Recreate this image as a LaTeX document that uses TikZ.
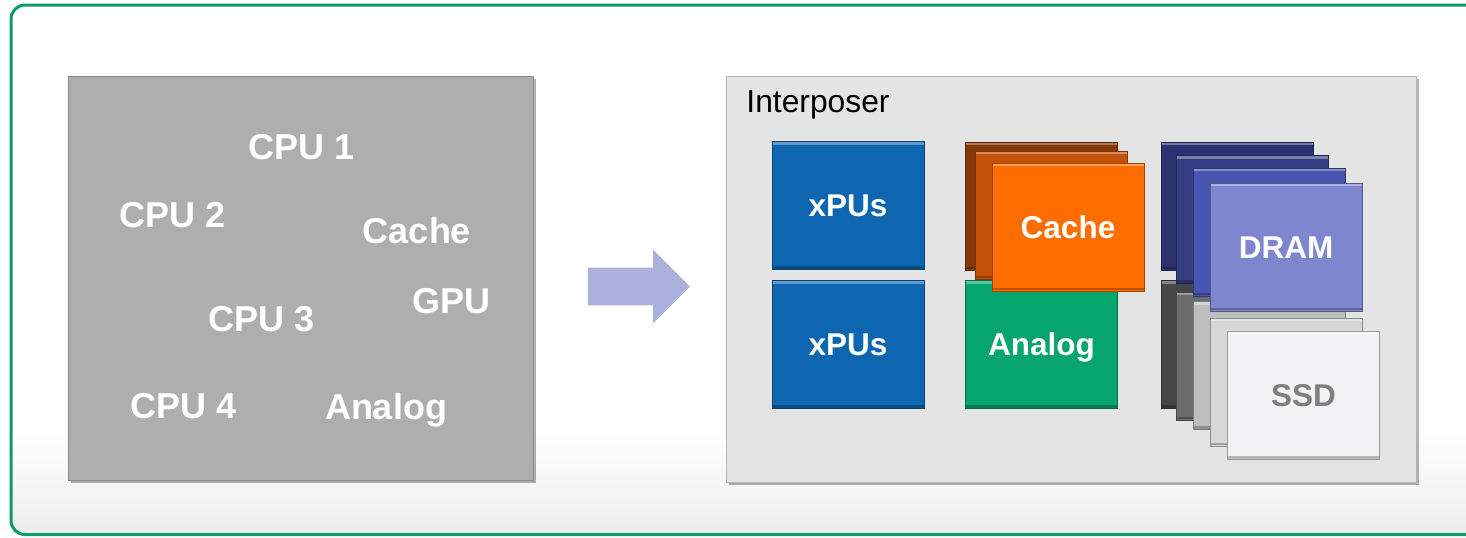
\documentclass[tikz,border=0pt]{standalone}
\usepackage{fontspec}
\setmainfont{Liberation Sans}
\usepackage{xcolor}
\usetikzlibrary{shapes.arrows, shadows}

\definecolor{frameGreen}{HTML}{0B9B6B}
\definecolor{chipGray}{HTML}{AEAEAE}
\definecolor{iposGray}{HTML}{E4E4E4}
\definecolor{arrowBlue}{HTML}{AEB0DC}
\definecolor{xpuBlue}{HTML}{0F66B0}
\definecolor{cacheA}{HTML}{843707}
\definecolor{cacheB}{HTML}{C6520A}
\definecolor{cacheC}{HTML}{FF6D00}
\definecolor{analogGreen}{HTML}{06A56F}
\definecolor{dramA}{HTML}{2B3270}
\definecolor{dramB}{HTML}{343C82}
\definecolor{dramC}{HTML}{4855B0}
\definecolor{dramD}{HTML}{7E86D0}
\definecolor{ssdA}{HTML}{464646}
\definecolor{ssdB}{HTML}{6B6A6D}
\definecolor{ssdC}{HTML}{BEBEBE}
\definecolor{ssdD}{HTML}{D7D7D7}
\definecolor{ssdE}{HTML}{F2F1F3}
\definecolor{ssdText}{HTML}{7F7F7F}

\begin{document}
\begin{tikzpicture}[x=0.5pt, y=-0.5pt,
    panel/.style={draw=#1!80!black, fill=#1, inner sep=0pt,
      drop shadow={shadow xshift=1.5pt, shadow yshift=-1.5pt,
        opacity=0.3, fill=black}},
    blk/.style={draw=#1!65!black, fill=#1, thin, inner sep=0pt,
      minimum width=76pt, minimum height=64pt, text=white,
      font=\fontsize{15.75}{18}\selectfont\bfseries,
      text height=11.3pt, text depth=0pt,
      path picture={
        \draw[white, opacity=0.35, line width=1.2pt]
          ([yshift=-1pt]path picture bounding box.north west) --
          ([yshift=-1pt]path picture bounding box.north east);
        \draw[black, opacity=0.25, line width=1.2pt]
          ([yshift=1pt]path picture bounding box.south west) --
          ([yshift=1pt]path picture bounding box.south east);}},
    lbl/.style={text=white, inner sep=0pt,
      font=\fontsize{18}{21}\selectfont\bfseries,
      text height=12.9pt, text depth=0pt},
  ]
    \useasboundingbox (0,0) rectangle (1466,537);
    \clip (0,0) rectangle (1466,537);

    % ═══ Frame ═══
    \fill[top color=white, bottom color=black!7] (12,430) rectangle (1466,533);
    \draw[frameGreen, line width=1.5pt, rounded corners=7pt]
      (11,5) rectangle (1500,534.5);

    % ═══ Monolithic chip (left) ═══
    \node[panel=chipGray, minimum width=232.5pt, minimum height=202pt]
      (chip) at (300.5,278) {};
    \node[lbl] (cpu1) at (302,147) {CPU 1};
    \node[lbl] (cpu2) at (173,215) {CPU 2};
    \node[lbl] (cache0) at (417,231) {Cache};
    \node[lbl] (gpu) at (451,301) {GPU};
    \node[lbl] (cpu3) at (262,319) {CPU 3};
    \node[lbl] (cpu4) at (184,406) {CPU 4};
    \node[lbl] (analog0) at (386,407) {Analog};

    % Arrow
    \node[single arrow, fill=arrowBlue, inner xsep=0pt, inner ysep=9.25pt,
      text height=0pt, text depth=0pt,
      minimum height=51pt, minimum width=36.5pt,
      single arrow head extend=9pt, single arrow head indent=0pt]
      (arrow) at (629.5,286.5) {};

    % ═══ Interposer (right) ═══
    \node[panel=iposGray, minimum width=345pt, minimum height=203pt]
      (ipos) at (1071,279) {};
    \node[anchor=base west, inner sep=0pt,
      font=\fontsize{15.9}{18}\selectfont] (iposlbl) at (746,112) {Interposer};

    % xPUs
    \node[blk=xpuBlue] (xpu1) at (848,205.5) {xPUs};
    \node[blk=xpuBlue] (xpu2) at (848,344.5) {xPUs};

    % Analog + cache stack
    \node[blk=analogGreen] (analog) at (1041.5,344.5) {Analog};
    \node[blk=cacheA] (cache1) at (1041.5,206) {};
    \node[blk=cacheB] (cache2) at (1051.5,215) {};
    \node[blk=cacheC] (cache) at (1068,227) {Cache};

    % SSD stack
    \node[blk=ssdA] (ssd1) at (1237.5,344.5) {};
    \node[blk=ssdB] (ssd2) at (1252.5,356) {};
    \node[blk=ssdC] (ssd3) at (1269.5,365.5) {};
    \node[blk=ssdD] (ssd4) at (1286,382) {};
    \node[blk=ssdE, text=ssdText] (ssd) at (1303.5,395.5) {SSD};

    % DRAM stack
    \node[blk=dramA] (dram1) at (1237.5,206) {};
    \node[blk=dramB] (dram2) at (1252.5,219.5) {};
    \node[blk=dramC] (dram3) at (1269.5,232) {};
    \node[blk=dramD] (dram) at (1286,247) {DRAM};
  \end{tikzpicture}
\end{document}
